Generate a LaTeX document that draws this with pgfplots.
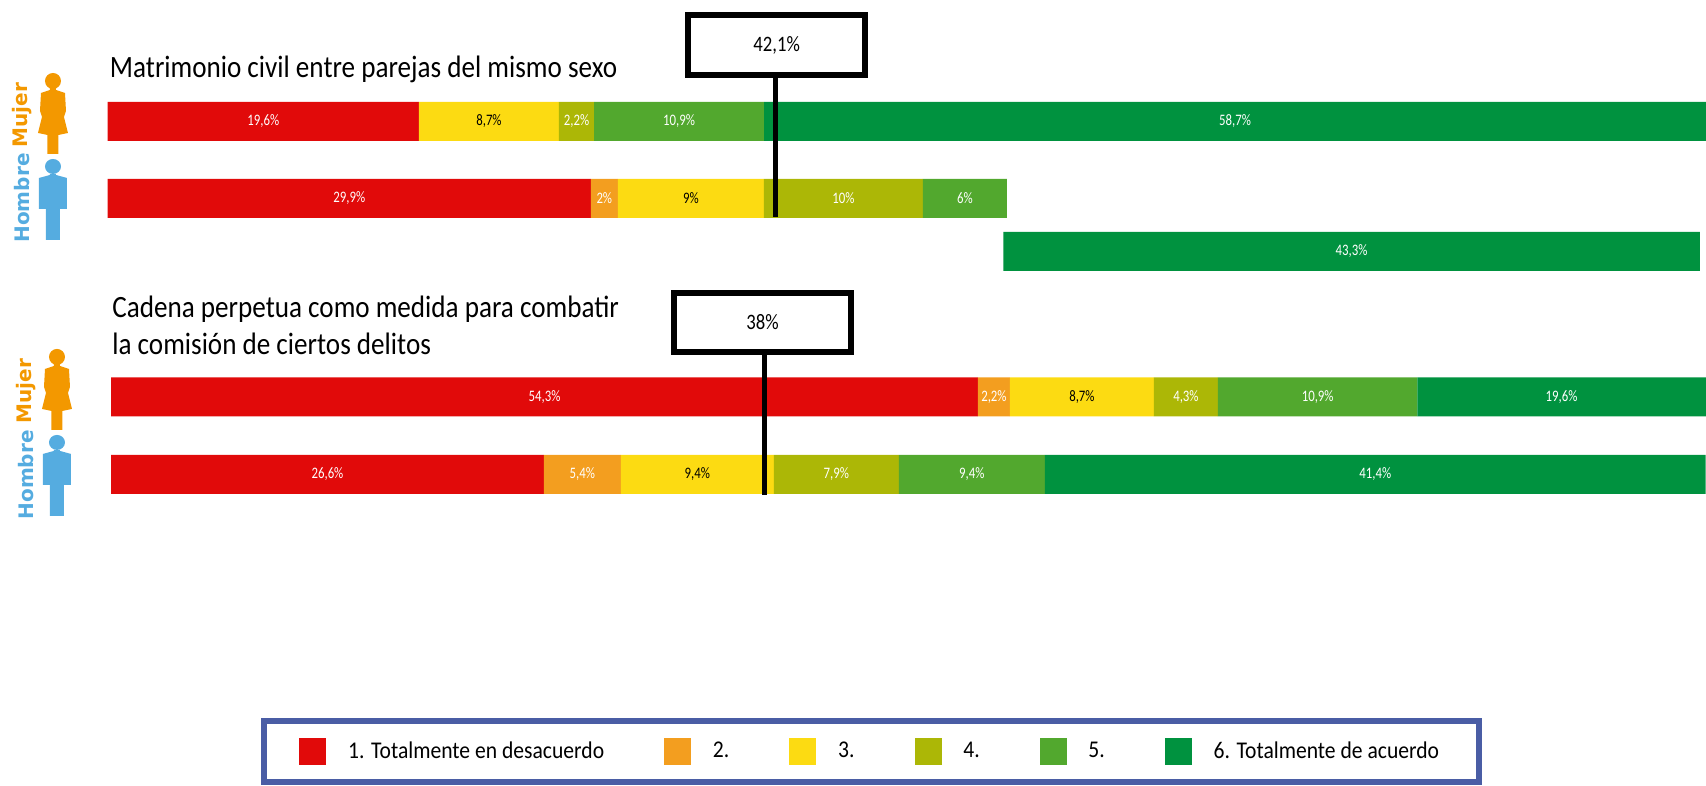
\documentclass[border=0pt]{standalone}
\usepackage{pgfplots}
\pgfplotsset{compat=1.18}
\usepackage{fontspec}
\setmainfont{Carlito}
\newfontfamily\narrowf[FakeStretch=0.8]{Carlito}
\newfontfamily\boxf[FakeStretch=0.85]{Carlito}
\newfontfamily\titlef[FakeStretch=0.875]{Carlito}
\newfontfamily\legf[FakeStretch=0.9]{Carlito}
\newfontfamily\boldf{DejaVu Sans}
\definecolor{c1}{HTML}{E10A0A}
\definecolor{c2}{HTML}{F39E1F}
\definecolor{c3}{HTML}{FCDB12}
\definecolor{c4}{HTML}{ACB706}
\definecolor{c5}{HTML}{52A82E}
\definecolor{c6}{HTML}{00923F}
\definecolor{hblue}{HTML}{55ACE0}
\definecolor{morange}{HTML}{F39800}
\definecolor{frame}{HTML}{4A5DA5}
\newcommand{\woman}[2]{\begin{scope}[shift={(#1,#2)}]
\fill[morange] (0,8) ellipse (8 and 8);
\fill[morange] (-3,15)--(3,15)--(3,17)--(12,20)--(13,38)--(11,44)--(15,60)--(5.5,62)--(5.5,81)--(-5.5,81)--(-5.5,62)--(-15,60)--(-11,44)--(-13,38)--(-12,20)--(-3,17)--cycle;
\end{scope}}
\newcommand{\man}[2]{\begin{scope}[shift={(#1,#2)}]
\fill[hblue] (0,7.5) ellipse (8 and 7.5);
\fill[hblue] (-3,15)--(3,15)--(3,16)--(14,19)--(14,50)--(7,50)--(7,81)--(-7,81)--(-7,50)--(-14,50)--(-14,19)--(-3,16)--cycle;
\end{scope}}
\begin{document}
\begin{tikzpicture}
\begin{axis}[
  at={(0,0)}, anchor=south west,
  scale only axis, width=853pt, height=393pt,
  xmin=0, xmax=106.625, ymin=0, ymax=786, y dir=reverse,
  hide axis, clip=false,
  xbar stacked, bar width=19.5pt,
  reverse stacked plots=false,
  nodes near coords,
  point meta=explicit symbolic,
  every node near coord/.append style={font=\narrowf\fontsize{8}{9}\selectfont, inner sep=0pt},
  legend columns=6,
  legend cell align=left,
  legend style={
    at={(axis cs:16.3,751.5)}, anchor=west,
    draw=frame, line width=3pt, fill=white,
    font=\legf\fontsize{12}{14}\selectfont,
    inner xsep=17.8pt, inner ysep=8.5pt,
    /tikz/every even column/.append style={column sep=28pt},
  },
  legend image code/.code={\fill[#1,draw=none] (0pt,-6.75pt) rectangle (13.5pt,6.75pt); \path (22.4pt,0pt);},
]
% spacer before each row
\addplot[draw=none, fill=none, forget plot, nodes near coords={}] coordinates {(6.73,121.5)[] (6.73,198.5)[] (62.72,251.5)[] (6.94,397)[] (6.94,474.5)[]};
\addplot[c1, fill=c1, draw=none, every node near coord/.append style={text=white}] coordinates {(19.46,121.5)[19,6\%] (30.2,198.5)[29,9\%] (0,251.5)[] (54.19,397)[54,3\%] (27.06,474.5)[26,6\%]};
\addplot[c2, fill=c2, draw=none, every node near coord/.append style={text=white}] coordinates {(0,121.5)[] (1.69,198.5)[2\%] (0,251.5)[] (2.0,397)[2,2\%] (4.81,474.5)[5,4\%]};
\addplot[c3, fill=c3, draw=none, every node near coord/.append style={text=black}] coordinates {(8.75,121.5)[8,7\%] (9.13,198.5)[9\%] (0,251.5)[] (9.0,397)[8,7\%] (9.56,474.5)[9,4\%]};
\addplot[c4, fill=c4, draw=none, every node near coord/.append style={text=white}] coordinates {(2.19,121.5)[2,2\%] (9.94,198.5)[10\%] (0,251.5)[] (4.0,397)[4,3\%] (7.81,474.5)[7,9\%]};
\addplot[c5, fill=c5, draw=none, every node near coord/.append style={text=white}] coordinates {(10.63,121.5)[10,9\%] (5.25,198.5)[6\%] (0,251.5)[] (12.47,397)[10,9\%] (9.13,474.5)[9,4\%]};
\addplot[c6, fill=c6, draw=none, every node near coord/.append style={text=white}] coordinates {(58.88,121.5)[58,7\%] (0,198.5)[] (43.53,251.5)[43,3\%] (18.03,397)[19,6\%] (41.31,474.5)[41,4\%]};
\legend{1. Totalmente en desacuerdo,2.,3.,4.,5.,6. Totalmente de acuerdo\hspace{6.5pt}}
% mean lines
\addplot[stack plots=false, sharp plot, black, line width=2.5pt, forget plot, nodes near coords={}] coordinates {(48.5,76)[] (48.5,217)[]};
\addplot[stack plots=false, sharp plot, black, line width=2.5pt, forget plot, nodes near coords={}] coordinates {(47.81,353)[] (47.81,495)[]};
\node[draw=black, line width=3pt, fill=white, minimum width=88.5pt, minimum height=30pt, inner sep=0pt, font=\boxf\fontsize{11}{12}\selectfont] at (axis cs:48.55,45.5) {42,1\%};
\node[draw=black, line width=3pt, fill=white, minimum width=88.5pt, minimum height=29.5pt, inner sep=0pt, font=\boxf\fontsize{11}{12}\selectfont] at (axis cs:47.66,322.5) {38\%};
\node[anchor=west, inner sep=0pt, font=\titlef\fontsize{15.5}{18}\selectfont] at (axis cs:6.85,69) {Matrimonio civil entre parejas del mismo sexo};
\node[anchor=west, inner sep=0pt, font=\titlef\fontsize{15.5}{18}\selectfont] at (axis cs:7.0,309) {Cadena perpetua como medida para combatir};
\node[anchor=west, inner sep=0pt, font=\titlef\fontsize{15.5}{18}\selectfont] at (axis cs:7.0,344) {la comisión de ciertos delitos};
\end{axis}
\path[use as bounding box] (0,0) rectangle (853pt,393pt);
\begin{scope}[x=0.5pt, y=-0.5pt, yshift=393pt]
\woman{53}{73}
\man{53}{159}
\woman{57}{349}
\man{57}{435}
\node[rotate=90, text=morange, inner sep=0pt, font=\boldf\bfseries\fontsize{10}{12}\selectfont] at (22,115) {Mujer};
\node[rotate=90, text=hblue, inner sep=0pt, font=\boldf\bfseries\fontsize{10}{12}\selectfont] at (22,198) {Hombre};
\node[rotate=90, text=morange, inner sep=0pt, font=\boldf\bfseries\fontsize{10}{12}\selectfont] at (26,391) {Mujer};
\node[rotate=90, text=hblue, inner sep=0pt, font=\boldf\bfseries\fontsize{10}{12}\selectfont] at (26,475) {Hombre};
\end{scope}
\end{tikzpicture}
\end{document}
